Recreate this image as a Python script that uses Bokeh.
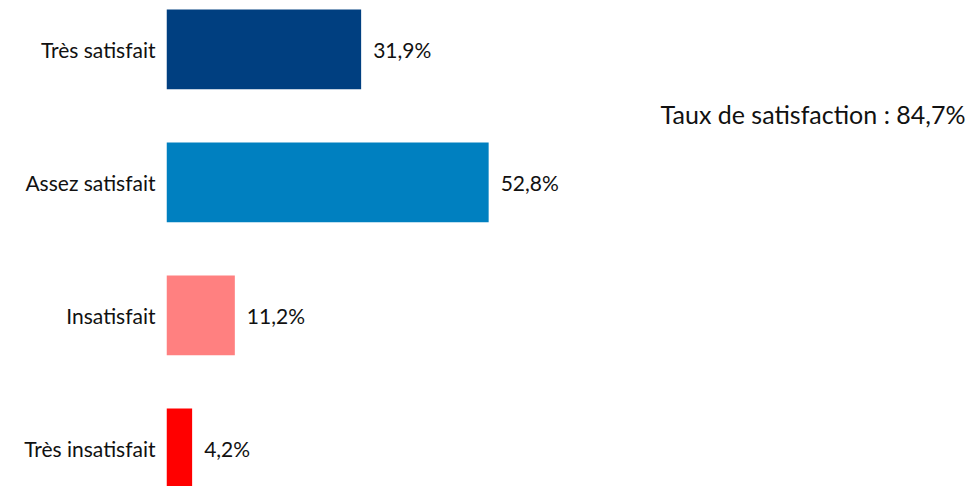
from bokeh.plotting import figure
from bokeh.models import ColumnDataSource, FixedTicker, Range1d, Label
from bokeh.core.properties import value
from bokeh.embed import file_html
from bokeh.resources import INLINE

categories = ["Très satisfait", "Assez satisfait", "Insatisfait", "Très insatisfait"]
values = [31.9, 52.8, 11.2, 4.2]
colors = ["#003F80", "#0080C0", "#FF8080", "#FF0000"]
positions = [4, 3, 2, 1]
value_labels = [f"{v:.1f}%".replace(".", ",") for v in values]
summary = "Taux de satisfaction : 84,7%"

FONT = "Lato"

src = ColumnDataSource(dict(cat=categories, val=values, col=colors, pos=positions, lab=value_labels))

p = figure(width=972, height=486, output_backend="svg", toolbar_location=None,
           x_range=Range1d(0, 132.1), y_range=Range1d(0.714, 4.368),
           min_border_left=166, min_border_right=0, min_border_top=0, min_border_bottom=0)

p.hbar(y="pos", right="val", left=0, height=0.6, color="col", source=src, line_color=None)
p.text(x="val", y="pos", text="lab", source=src, x_offset=12, text_baseline="middle",
       text_align="left", text_font=value(FONT), text_font_size="21px", text_color="#111111")

p.yaxis.ticker = FixedTicker(ticks=positions)
p.yaxis.major_label_overrides = {pos: cat for pos, cat in zip(positions, categories)}
p.yaxis.major_label_text_font = FONT
p.yaxis.major_label_text_font_size = "21px"
p.yaxis.major_label_text_color = "#111111"
p.yaxis.major_label_standoff = 5
p.yaxis.axis_line_color = None
p.yaxis.major_tick_line_color = None
p.yaxis.minor_tick_line_color = None
p.xaxis.visible = False

p.add_layout(Label(x=965 - 166, y=486 - 113, x_units="screen", y_units="screen", text=summary,
                   text_align="right", text_baseline="middle", text_font=FONT,
                   text_font_size="25px", text_color="#111111"))

p.xgrid.visible = False
p.ygrid.visible = False
p.outline_line_color = None
p.background_fill_color = "white"
p.border_fill_color = "white"

open("out.html", "w").write(file_html(p, INLINE))
